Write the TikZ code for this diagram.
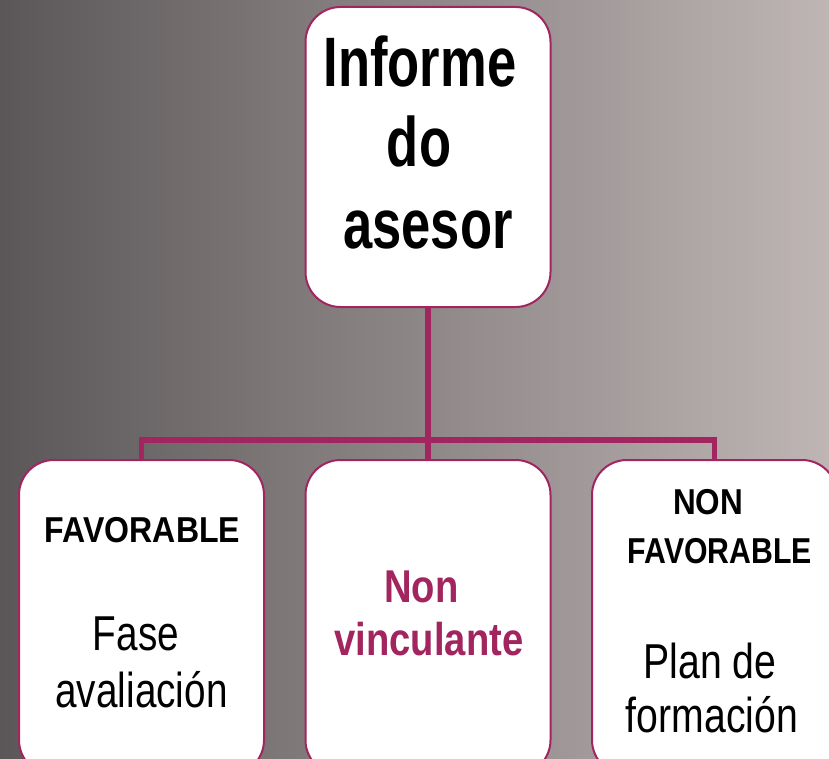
\documentclass[tikz,border=0pt]{standalone}
\usepackage{fontspec}
\setmainfont{Liberation Sans}
\usepackage{graphicx}
\newcommand\hsqz[2]{\scalebox{#1}[1]{#2}}
\definecolor{mag}{HTML}{A2255F}
\definecolor{bgl}{HTML}{5B5758}
\definecolor{bgr}{HTML}{BFB5B5}
\begin{document}
\begin{tikzpicture}[x=1pt,y=-1pt,
  box/.style={draw=mag, line width=2pt, fill=white, rounded corners=35pt,
    minimum width=245pt, inner sep=0pt},
  link/.style={draw=mag, line width=5.5pt},
  txt/.style={anchor=base, inner sep=0pt}]
\useasboundingbox (0,0) rectangle (829,759);
\clip (0,0) rectangle (829,759);
\shade[left color=bgl, right color=bgr] (0,0) rectangle (829,759);
\coordinate (bar) at (428,440);
% boxes
\node[box, minimum height=300pt] (top) at (428,157) {};
\node[box, minimum height=315pt] (lbox) at (141.5,617.5) {};
\node[box, minimum height=315pt] (mbox) at (428,617.5) {};
\node[box, minimum height=315pt] (rbox) at (714.5,617.5) {};
% connectors
\draw[link] (top.south) -- (bar);
\draw[link] (lbox.north) |- (bar) -| (rbox.north);
\draw[link] (bar) -- (mbox.north);
% top text
\node[txt, font=\fontsize{70}{80}\selectfont\bfseries] (t1) at (420,87) {\hsqz{0.75}{Informe}};
\node[txt, font=\fontsize{70}{80}\selectfont\bfseries] (t2) at (419,167) {\hsqz{0.75}{do}};
\node[txt, font=\fontsize{70}{80}\selectfont\bfseries] (t3) at (428,248) {\hsqz{0.75}{asesor}};
% left box
\node[txt, font=\fontsize{36}{42}\selectfont\bfseries] (t4) at (142.5,542) {\hsqz{0.89}{FAVORABLE}};
\node[txt, font=\fontsize{49}{57}\selectfont] (t5) at (136,650) {\hsqz{0.79}{Fase}};
\node[txt, font=\fontsize{49}{57}\selectfont] (t6) at (141.5,707) {\hsqz{0.79}{avaliación}};
% middle box
\node[txt, font=\fontsize{46}{56}\selectfont\bfseries, text=mag] (t7) at (421.5,602) {\hsqz{0.83}{Non}};
\node[txt, font=\fontsize{46}{56}\selectfont\bfseries, text=mag] (t8) at (429,655) {\hsqz{0.83}{vinculante}};
% right box
\node[txt, font=\fontsize{36}{42}\selectfont\bfseries] (t9) at (708,514) {\hsqz{0.875}{NON}};
\node[txt, font=\fontsize{36}{42}\selectfont\bfseries] (t10) at (720,563) {\hsqz{0.84}{FAVORABLE}};
\node[txt, font=\fontsize{49}{57}\selectfont] (t11) at (710,678) {\hsqz{0.8}{Plan de}};
\node[txt, font=\fontsize{49}{57}\selectfont] (t12) at (712,732) {\hsqz{0.8}{formación}};
\end{tikzpicture}
\end{document}
